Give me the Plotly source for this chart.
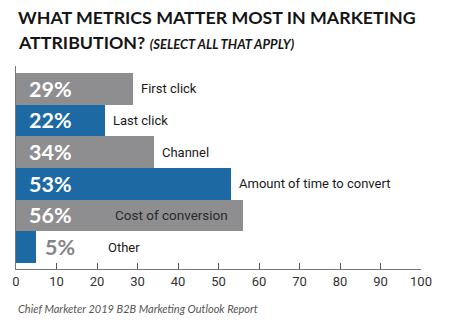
import plotly.graph_objects as go

# Survey data
categories = ["First click", "Last click", "Channel", "Amount of time to convert",
              "Cost of conversion", "Other"]
values = [29, 22, 34, 53, 56, 5]
bar_colors = ["#8e8e90", "#1c69a4", "#8e8e90", "#1c69a4", "#8e8e90", "#1c69a4"]
tick_values = [0, 10, 20, 30, 40, 50, 60, 70, 80, 90, 100]

title_line1 = "WHAT METRICS MATTER MOST IN MARKETING"
title_line2 = "ATTRIBUTION?"
subtitle = "(SELECT ALL THAT APPLY)"
source = "Chief Marketer 2019 B2B Marketing Outlook Report"

LABEL_FONT = "Roboto, Liberation Sans, sans-serif"
BOLD = "Lato, Roboto, Liberation Sans, sans-serif"

fig = go.Figure(go.Bar(
    x=values,
    y=categories,
    orientation="h",
    marker=dict(color=bar_colors, line=dict(width=0)),
    hoverinfo="skip",
))

annotations = []
for cat, val in zip(categories, values):
    short = val < 15
    # percentage label: inside the bar in white, or just past a short bar in grey
    if not short:
        annotations.append(dict(x=0, y=cat, xref="x", yref="y", text=f"<b>{val}%</b>",
                                showarrow=False, xanchor="left", xshift=11,
                                font=dict(family=BOLD, size=21.5, color="white")))
    else:
        annotations.append(dict(x=val, y=cat, xref="x", yref="y", text=f"<b>{val}%</b>",
                                showarrow=False, xanchor="left", xshift=7,
                                font=dict(family=BOLD, size=21.5, color="#858587")))
    # category name
    if cat == "Cost of conversion":
        annotations.append(dict(x=val, y=cat, xref="x", yref="y", text=cat,
                                showarrow=False, xanchor="right", xshift=-13,
                                font=dict(family=LABEL_FONT, size=13.5, color="#2a2a2a")))
    else:
        shift = 70 if short else 6
        annotations.append(dict(x=val, y=cat, xref="x", yref="y", text=cat,
                                showarrow=False, xanchor="left", xshift=shift,
                                font=dict(family=LABEL_FONT, size=13, color="#1a1a1a")))

# titles and source line
annotations += [
    dict(x=0, y=1, xref="paper", yref="paper", xanchor="left", yanchor="middle",
         text=f"<b>{title_line1}</b>", showarrow=False, yshift=66 - 17,
         font=dict(family=BOLD, size=17.8, color="#151515")),
    dict(x=0, y=1, xref="paper", yref="paper", xanchor="left", yanchor="middle",
         text=f"<b>{title_line2}</b> <i><b><span style='font-size:13px'>{subtitle}</span></b></i>",
         showarrow=False, yshift=66 - 42,
         font=dict(family=BOLD, size=17.8, color="#151515")),
    dict(x=0, y=0, xref="paper", yref="paper", xanchor="left", yanchor="middle",
         text=f"<i>{source}</i>", showarrow=False, yshift=269 - 308,
         font=dict(family=BOLD, size=11, color="#555555")),
]

fig.update_layout(
    width=450, height=330,
    margin=dict(l=16, r=29, t=66, b=61),
    paper_bgcolor="white", plot_bgcolor="white",
    bargap=0,
    showlegend=False,
    annotations=annotations,
    xaxis=dict(range=[0, 100], tickvals=tick_values, ticks="inside", ticklen=6,
               tickcolor="#555555", tickwidth=1,
               showline=True, linecolor="#777777", linewidth=1,
               showgrid=False, zeroline=False, fixedrange=True,
               tickfont=dict(family="Roboto, sans-serif", size=13, color="#333333")),
    yaxis=dict(range=[5.69, -0.72], showticklabels=False, ticks="",
               showline=True, linecolor="#777777", linewidth=1,
               showgrid=False, zeroline=False, fixedrange=True),
)

fig.write_html("out.html")
